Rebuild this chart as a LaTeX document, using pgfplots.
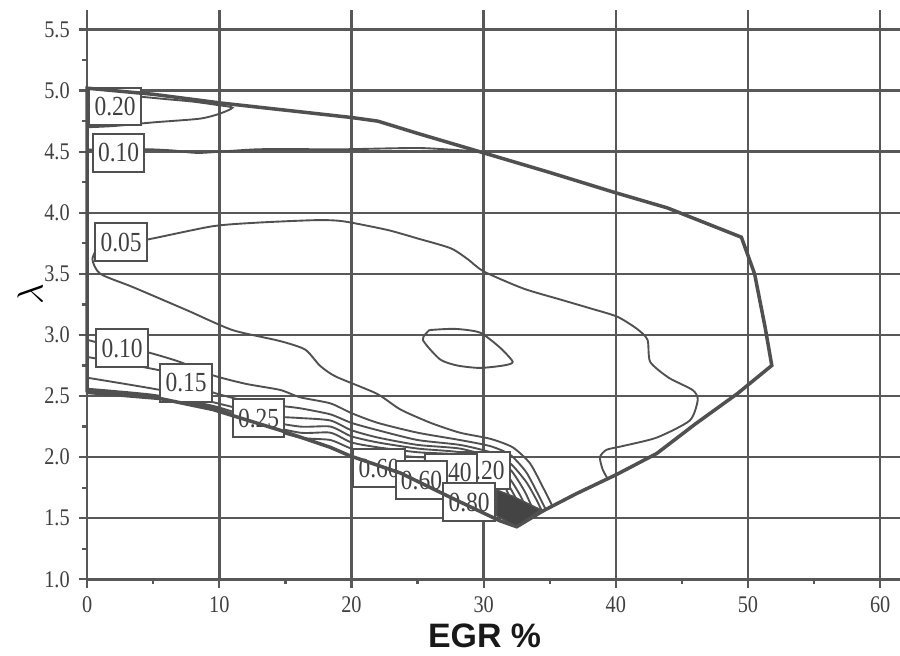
\documentclass[border=0pt]{standalone}
\usepackage{pgfplots}
\pgfplotsset{compat=1.18}
\usepackage{fontspec}
\setmainfont{Liberation Serif}
\newfontfamily\tickfont[FakeStretch=0.85]{Liberation Serif}
\newfontfamily\labfont{Liberation Sans}
\definecolor{ink}{HTML}{505050}
\definecolor{gridc}{HTML}{585858}
\definecolor{txt}{HTML}{404040}
\tikzset{
  lab/.style={draw=ink, fill=white, line width=0.8pt, text=txt,
     font=\tickfont\fontsize{11}{12}\selectfont,
     minimum width=0.72cm, minimum height=0.53cm, inner sep=1pt},
  cont/.style={draw=ink, line width=0.75pt, smooth, tension=0.4},
}
\begin{document}
\begin{tikzpicture}
\begin{axis}[
  scale only axis, width=11.38cm, height=7.97cm,
  xmin=0, xmax=61.5, ymin=1, ymax=5.66,
  axis lines=left, axis line style={-, draw=gridc, line width=1pt},
  xtick={0,10,...,60}, ytick={1,1.5,...,5.5},
  minor xtick={5,15,...,55}, minor ytick={1.25,1.75,...,5.25},
  grid=major, major grid style={draw=gridc, line width=1pt},
  tick align=outside, major tick length=0.12cm, minor tick length=0.07cm,
  tick style={draw=gridc, line width=0.9pt},
  /pgf/number format/assume math mode=true,
  xticklabel style={font=\tickfont\fontsize{9.5}{10}\selectfont, text=txt},
  yticklabel style={font=\tickfont\fontsize{9.5}{10}\selectfont, text=txt,
     /pgf/number format/.cd, fixed, fixed zerofill, precision=1},
  xlabel={\labfont\bfseries\fontsize{13.5}{14}\selectfont EGR \%},
  xlabel style={at={(axis description cs:0.489,0)}, anchor=center, yshift=-0.79cm, text=black!90},
  ylabel={\fontsize{15}{16}\selectfont$\lambda$},
  ylabel style={at={(axis description cs:-0.0703,0.5)}, anchor=center},
  clip=false,
]
% 0.20 contour (upper left)
\addplot[cont, no marks] coordinates {(0,4.97) (2,4.96) (4,4.95) (6,4.93) (8,4.91) (10,4.88) (11,4.86) (10,4.81) (8.5,4.77) (5,4.74) (2,4.71) (0,4.70)};
% 0.10 contour (upper)
\addplot[cont, no marks] coordinates {(0,4.52) (2.4,4.50) (4.4,4.52) (6.5,4.51) (8.5,4.49) (13,4.52) (19.4,4.52) (25.2,4.53) (29.7,4.50)};
% 0.05 contour upper branch
\addplot[cont, no marks] coordinates {(2.6,3.76) (4.5,3.78) (9.5,3.89) (13,3.92) (17.4,3.94) (19.4,3.93) (22.7,3.86) (25,3.79) (27.5,3.71) (28.8,3.62) (30,3.52) (33,3.38) (35.8,3.29) (38,3.22) (40.1,3.15) (41.6,3.05) (42.4,2.96) (42.6,2.78) (44,2.65) (45.8,2.55) (46.2,2.47) (45.6,2.30) (43.1,2.16) (40.5,2.09) (39.3,2.06) (38.8,2.0) (39,1.9) (39.4,1.82)};
% 0.05 contour lower branch
\addplot[cont, no marks] coordinates {(0.9,3.74) (0.4,3.62) (1,3.5) (3.5,3.39) (7.6,3.2) (11,3.04) (14.6,2.95) (16.5,2.88) (17.6,2.75) (18.8,2.66) (21.9,2.52) (23.7,2.39) (26,2.28) (28.2,2.20) (30.5,2.15) (32.2,2.08) (33.5,1.95) (34.5,1.75) (35.2,1.60)};
% island
\addplot[cont, no marks] coordinates {(25.9,3.04) (27.8,3.05) (29.7,3.02) (31.2,2.90) (32.2,2.78) (31.5,2.75) (29.7,2.73) (28,2.75) (26.7,2.80) (25.4,2.96) (25.9,3.04)};
% bundle of contours
\addplot[cont, no marks] coordinates {(0,2.96) (2.6,2.89) (4.5,2.86) (7,2.78) (9.5,2.67) (12,2.60) (14.6,2.55) (16.1,2.49) (18.4,2.44) (20,2.36) (22,2.28) (25,2.20) (28.2,2.14) (30.5,2.09) (32,2.02) (33.2,1.88) (34.1,1.70) (34.7,1.57)};
\addplot[cont, no marks] coordinates {(0,2.82) (5.5,2.71) (7.5,2.63) (9.5,2.53) (12,2.46) (14.6,2.42) (16.1,2.40) (18.4,2.35) (20,2.28) (22,2.22) (25,2.14) (28.2,2.10) (30.5,2.04) (32,1.95) (33.2,1.80) (34.0,1.65) (34.4,1.56)};
\addplot[cont, no marks] coordinates {(0,2.65) (5.5,2.55) (9.5,2.45) (12.9,2.36) (14.6,2.33) (16.1,2.32) (18.4,2.30) (20,2.22) (22,2.16) (25,2.10) (28.2,2.07) (30.5,2.0) (32,1.90) (33.1,1.72) (33.9,1.53)};
\addplot[cont, no marks] coordinates {(0,2.56) (5,2.51) (9.5,2.42) (12.9,2.31) (16.1,2.25) (18.4,2.25) (20,2.17) (22,2.12) (25,2.07) (28.2,2.04) (30.5,1.97) (31.8,1.85) (32.8,1.68) (33.5,1.51)};
\addplot[cont, no marks] coordinates {(0,2.55) (5,2.50) (9.5,2.41) (12.9,2.28) (16.1,2.20) (18.4,2.20) (20,2.12) (22,2.08) (25,2.04) (28.2,2.02) (30.5,1.95) (31.6,1.82) (32.5,1.65) (33.1,1.49)};
\addplot[cont, no marks] coordinates {(0,2.54) (5,2.49) (9.5,2.40) (12.9,2.26) (16.1,2.16) (18.4,2.14) (20,2.07) (22,2.03) (25,2.00) (28.2,1.99) (30.5,1.93) (31.4,1.80) (32.2,1.62) (32.8,1.46)};
% dense dark region
\addplot[fill=ink!85!black, draw=ink, line width=0.6pt, no marks] coordinates {(31,1.73) (32.2,1.68) (34.3,1.57) (32.5,1.43) (31,1.52)} -- cycle;
% contour labels
\node[lab] at (axis cs:2.12,4.87) {0.20};
\node[lab] at (axis cs:2.38,4.49) {0.10};
\node[lab] at (axis cs:2.57,3.76) {0.05};
\node[lab] at (axis cs:2.65,2.89) {0.10};
\node[lab] at (axis cs:7.49,2.61) {0.15};
\node[lab] at (axis cs:12.97,2.32) {0.25};
\node[lab] at (axis cs:30.03,1.89) {0.20};
\node[lab] at (axis cs:27.53,1.87) {0.40};
\node[lab] at (axis cs:22.09,1.91) {0.60};
\node[lab] at (axis cs:25.30,1.81) {0.60};
\node[lab] at (axis cs:28.90,1.63) {0.80};
% outer boundary
\addplot[draw=ink, line width=1.4pt, no marks] coordinates {
 (0,2.53) (0,5.02) (5,4.97) (10,4.90) (15,4.84) (20,4.78) (22,4.75) (25,4.65) (29.7,4.50) (35,4.33) (39.8,4.17) (43.9,4.04) (49.5,3.80) (50.5,3.5) (51.3,3.06) (51.8,2.75) (49.2,2.52) (46,2.27) (43.1,2.03) (40.1,1.86) (37,1.70) (34.5,1.56) (32.5,1.43) (31.2,1.48) (27.5,1.67) (23.7,1.87) (19.9,2.01) (18.4,2.08) (14.6,2.22) (9.5,2.39) (5.5,2.48) (0,2.53)};
\end{axis}
\pgfresetboundingbox
\path[use as bounding box] (-1.22cm,-1.064cm) rectangle (11.38cm,8.11cm);
\end{tikzpicture}
\end{document}
